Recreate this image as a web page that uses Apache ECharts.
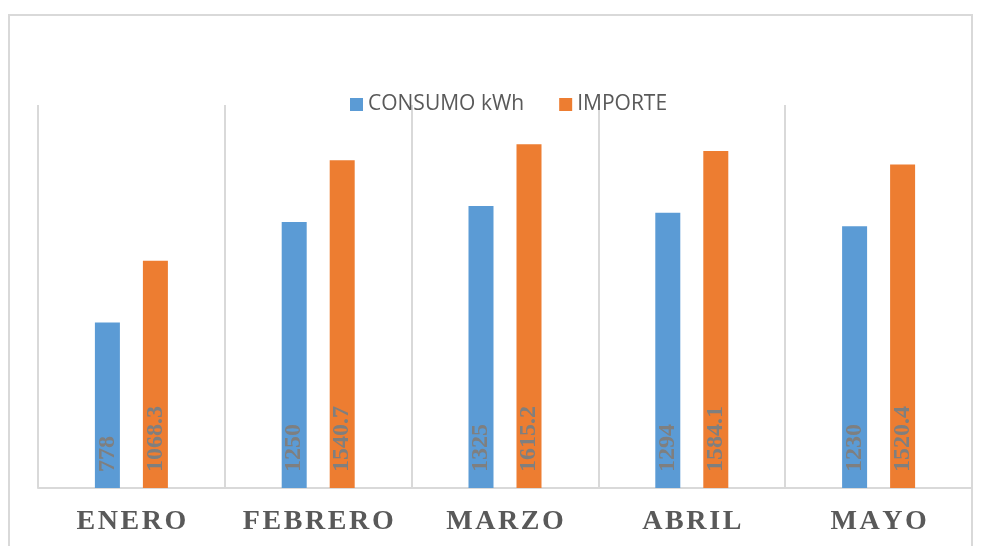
<!DOCTYPE html>
<html>
<head>
<meta charset="utf-8">
<script src="https://cdn.jsdelivr.net/npm/echarts@6/dist/echarts.min.js"></script>
<style>html,body{margin:0;padding:0;background:#fff}#c{width:988px;height:546px}</style>
</head>
<body>
<div id="c"></div>
<script>
var categories = ['ENERO', 'FEBRERO', 'MARZO', 'ABRIL', 'MAYO'];
var consumo = [778, 1250, 1325, 1294, 1230];
var importe = [1068.3, 1540.7, 1615.2, 1584.1, 1520.4];
var seriesNames = ['CONSUMO kWh', 'IMPORTE'];

var chart = echarts.init(document.getElementById('c'), null, {renderer: 'canvas'});
var dataLabel = {
  show: true,
  position: 'insideBottom',
  distance: 16,
  rotate: 90,
  align: 'left',
  verticalAlign: 'middle',
  color: '#7f7f7f',
  fontFamily: 'Liberation Serif',
  fontWeight: 'bold',
  fontSize: 24
};
var catStyle = {
  fontFamily: 'Liberation Serif',
  fontWeight: 'bold',
  fontSize: 28,
  color: '#595959',
  padding: [0, 1.3, 0, 1.3]
};
chart.setOption({
  animation: false,
  color: ['#5B9BD5', '#ED7D31'],
  graphic: [{
    type: 'rect',
    shape: {x: 9, y: 15, width: 963, height: 560},
    style: {fill: 'none', stroke: '#d9d9d9', lineWidth: 2},
    silent: true,
    z: -10
  }],
  legend: {
    left: 345,
    top: 89,
    itemWidth: 13,
    itemHeight: 13,
    itemGap: 35,
    icon: 'rect',
    textStyle: {fontFamily: 'Open Sans', fontSize: 21, color: '#595959'},
    data: seriesNames
  },
  grid: {left: 38, right: 16, top: 105, bottom: 58, containLabel: false},
  xAxis: {
    type: 'category',
    data: categories,
    axisLine: {show: true, lineStyle: {color: '#d9d9d9', width: 2}},
    axisTick: {show: false, interval: 0},
    splitLine: {show: true, interval: 0, lineStyle: {color: '#d9d9d9', width: 2}},
    axisLabel: {
      interval: 0,
      hideOverlap: false,
      margin: 20,
      fontFamily: 'Liberation Serif',
      fontWeight: 'bold',
      fontSize: 28,
      color: '#595959',
      formatter: function (v) {
        return v.split('').map(function (ch) { return '{c|' + ch + '}'; }).join('');
      },
      rich: {c: catStyle}
    }
  },
  yAxis: {
    type: 'value',
    min: 0,
    max: 1800,
    show: false,
    splitLine: {show: false}
  },
  series: [
    {name: seriesNames[0], type: 'bar', data: consumo, barWidth: 25, barGap: '92%', label: dataLabel},
    {name: seriesNames[1], type: 'bar', data: importe, barWidth: 25, barGap: '92%', label: dataLabel}
  ]
});
</script>
</body>
</html>
